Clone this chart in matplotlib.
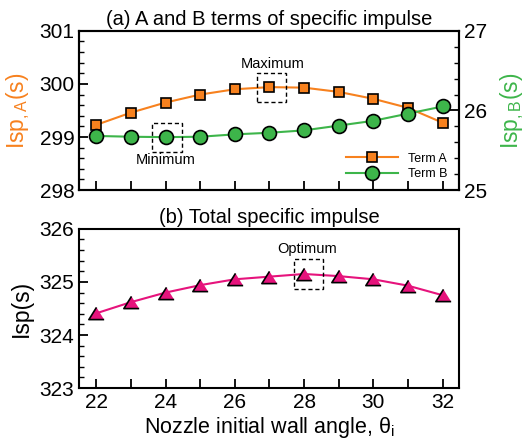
import numpy as np
from matplotlib import pyplot as plt
from matplotlib.patches import Rectangle
from matplotlib.ticker import MultipleLocator

plt.rcParams['font.family'] = ['Liberation Sans', 'DejaVu Sans']
plt.rcParams['mathtext.fontset'] = 'custom'
plt.rcParams['mathtext.rm'] = 'Liberation Sans'
plt.rcParams['mathtext.it'] = 'Liberation Sans'

# data
angle = [22, 23, 24, 25, 26, 27, 28, 29, 30, 31, 32]
term_a = [299.23, 299.46, 299.65, 299.80, 299.90, 299.94, 299.93, 299.85, 299.72, 299.55, 299.27]
term_b = [25.68, 25.67, 25.665, 25.67, 25.70, 25.72, 25.75, 25.81, 25.87, 25.96, 26.05]
isp_total = [324.41, 324.62, 324.80, 324.94, 325.05, 325.10, 325.15, 325.11, 325.05, 324.93, 324.75]

orange = '#F7811E'
green = '#3DB54A'
pink = '#E6137C'
tri = [(0, 0.8), (-1, -0.8), (1, -0.8)]

fig = plt.figure(figsize=(5.31, 4.41), dpi=100)
ax1 = fig.add_axes([0.149, 0.569, 0.715, 0.361])
ax3 = fig.add_axes([0.149, 0.120, 0.715, 0.361])


def style(ax):
    for s in ax.spines.values():
        s.set_linewidth(1.5)
    ax.tick_params(direction='in', which='major', length=6.5, width=1.3, labelsize=15)
    ax.tick_params(direction='in', which='minor', length=3.5, width=1.0)


#========================================
#        (a) A and B terms
#========================================
ax1.plot(angle, term_a, color=orange, lw=1.5, marker='s', ms=7.5,
         mfc=orange, mec='black', mew=1.2, label='Term A')
ax1.set_xlim(21.5, 32.47)
ax1.set_ylim(298, 301)
ax1.yaxis.set_major_locator(MultipleLocator(1))
ax1.yaxis.set_minor_locator(MultipleLocator(0.2))
ax1.set_xticks(angle)
ax1.set_xticklabels([])
style(ax1)
ax1.tick_params(axis='y', which='both', right=False)
ax1.set_ylabel('Isp$_{\\mathregular{,A}}$(s)', color=orange, fontsize=16.5, labelpad=5)
ax1.set_title('(a) A and B terms of specific impulse', fontsize=14.5, pad=4)

ax2 = ax1.twinx()
ax2.plot(angle, term_b, color=green, lw=1.5, marker='o', ms=10,
         mfc=green, mec='black', mew=1.2, label='Term B')
ax2.set_ylim(25, 27)
ax2.yaxis.set_major_locator(MultipleLocator(1))
ax2.yaxis.set_minor_locator(MultipleLocator(0.2))
style(ax2)
ax2.set_ylabel('Isp$_{\\mathregular{,B}}$(s)', color=green, fontsize=16.5, labelpad=8)

h1, l1 = ax1.get_legend_handles_labels()
h2, l2 = ax2.get_legend_handles_labels()
ax2.legend(h1 + h2, l1 + l2, loc='lower right', frameon=False, fontsize=9,
           handlelength=4.2, bbox_to_anchor=(1.0, -0.01), labelspacing=0.3)

# dashed boxes around the extremes
i_max = int(np.argmax(term_a))
ax1.add_patch(Rectangle((angle[i_max] - 0.35, term_a[i_max] - 0.275), 0.84, 0.55,
                        fill=False, ls=(0, (3, 2)), lw=1.0, ec='black', zorder=5))
ax1.text(angle[i_max] + 0.08, term_a[i_max] + 0.31, 'Maximum', ha='center', va='bottom', fontsize=10.5)

i_min = int(np.argmin(term_b))
ax2.add_patch(Rectangle((angle[i_min] - 0.38, term_b[i_min] - 0.183), 0.84, 0.366,
                        fill=False, ls=(0, (3, 2)), lw=1.0, ec='black', zorder=5))
ax2.text(angle[i_min], term_b[i_min] - 0.2, 'Minimum', ha='center', va='top', fontsize=10.5)

#========================================
#        (b) Total specific impulse
#========================================
ax3.plot(angle, isp_total, color=pink, lw=1.5, marker=tri, ms=11,
         mfc=pink, mec='black', mew=1.2)
ax3.set_xlim(21.5, 32.47)
ax3.set_ylim(323, 326)
ax3.xaxis.set_major_locator(MultipleLocator(2))
ax3.xaxis.set_minor_locator(MultipleLocator(1))
ax3.yaxis.set_major_locator(MultipleLocator(1))
ax3.yaxis.set_minor_locator(MultipleLocator(0.2))
style(ax3)
ax3.tick_params(axis='x', which='minor', length=6.5, width=1.3)
ax3.set_ylabel('Isp(s)', fontsize=16.5, labelpad=5)
ax3.set_xlabel('Nozzle initial wall angle, $\\theta_{\\mathregular{i}}$', fontsize=15.5, labelpad=2)
ax3.set_title('(b) Total specific impulse', fontsize=14.5, pad=4)

i_opt = int(np.argmax(isp_total))
ax3.add_patch(Rectangle((angle[i_opt] - 0.3, isp_total[i_opt] - 0.28), 0.84, 0.56,
                        fill=False, ls=(0, (3, 2)), lw=1.0, ec='black', zorder=5))
ax3.text(angle[i_opt] + 0.1, isp_total[i_opt] + 0.34, 'Optimum', ha='center', va='bottom', fontsize=10.5)

fig.savefig('out.png', dpi=100)
